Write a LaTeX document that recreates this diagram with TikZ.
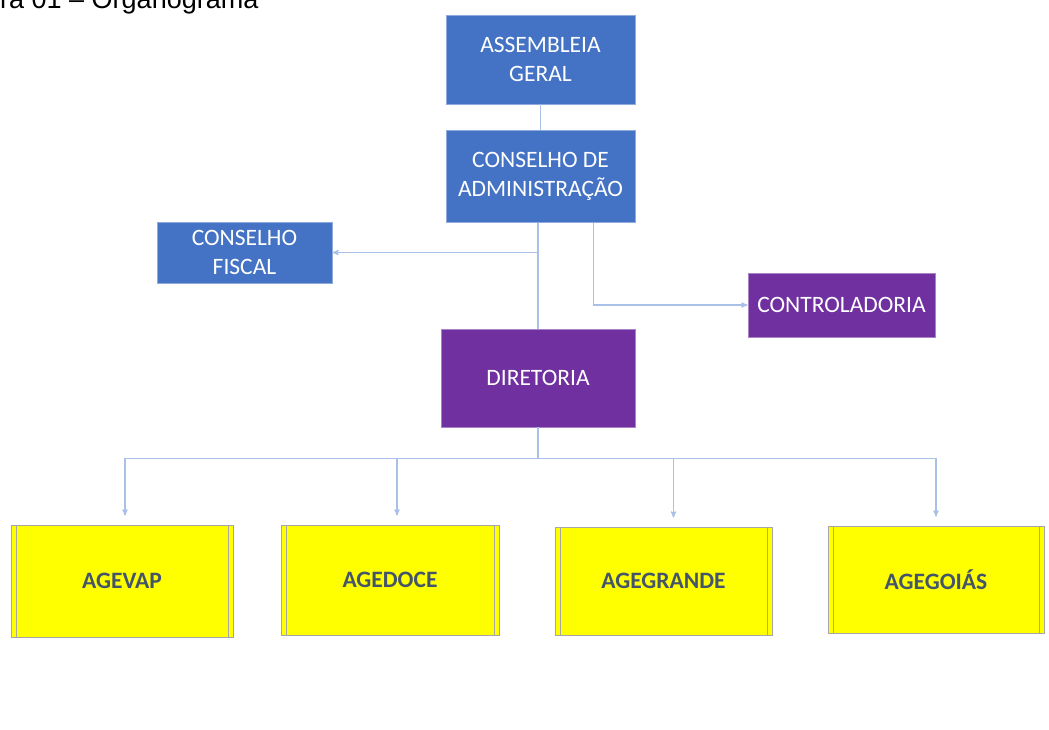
\documentclass[tikz,border=0pt]{standalone}
\usepackage{fontspec}
\setmainfont{Carlito}
\newfontfamily\captionfont{Liberation Sans}
\usetikzlibrary{arrows,positioning}
\definecolor{boxblue}{HTML}{4472C4}
\definecolor{boxpurple}{HTML}{7030A0}
\definecolor{boxyellow}{HTML}{FFFF00}
\definecolor{linkblue}{HTML}{A9C0E8}
\definecolor{agencytext}{HTML}{44546A}
\definecolor{agencyrule}{HTML}{A6A6A6}
\tikzset{>=stealth',shorten >=0pt,node distance=26pt}
\tikzset{
    orgbox/.style={rectangle, line width=0.8pt, text=white, align=center,
        inner sep=0pt, font=\fontsize{23.5}{29}\selectfont},
    bluebox/.style={orgbox, fill=boxblue, draw=boxblue!60!white},
    purplebox/.style={orgbox, fill=boxpurple, draw=boxpurple!60!white},
    agencybox/.style={rectangle, fill=boxyellow, draw=agencyrule, line width=0.8pt,
        text=agencytext, inner sep=0pt, font=\bfseries\fontsize{23.5}{29}\selectfont,
        path picture={
            \draw[agencyrule, line width=0.8pt]
                ([xshift=5pt]path picture bounding box.north west) --
                ([xshift=5pt]path picture bounding box.south west)
                ([xshift=-5pt]path picture bounding box.north east) --
                ([xshift=-5pt]path picture bounding box.south east);
        }},
    link/.style={draw=linkblue, line width=1.2pt}
}

\begin{document}
\begin{tikzpicture}[x=1pt,y=-1pt]
    \useasboundingbox (0,0) rectangle (1049,729);
    \node[anchor=base west, inner sep=0pt, font=\captionfont\fontsize{27}{30}\selectfont]
        (caption) at (0,8) {ra 01 – Organograma};

    % conselhos
    \node[bluebox, minimum width=189pt, minimum height=89pt] (ag) at (540.5,59.5)
        {ASSEMBLEIA\\GERAL};
    \node[bluebox, minimum width=189pt, minimum height=92pt] (adm) [below=26pt of ag]
        {CONSELHO DE\\ADMINISTRAÇÃO};
    \node[bluebox, minimum width=175pt, minimum height=61pt] (fiscal) at (244.5,252.5)
        {CONSELHO\\FISCAL};
    \node[purplebox, minimum width=187pt, minimum height=64pt] (ctrl) at (841.5,305)
        {CONTROLADORIA};
    \node[purplebox, minimum width=194pt, minimum height=98pt] (dir) at (538,378)
        {DIRETORIA};

    % agencias
    \node[agencybox, minimum width=222pt, minimum height=112pt] (vap) at (122,581) {AGEVAP};
    \node[agencybox, minimum width=218pt, minimum height=110pt] (doce) at (390,580) {AGEDOCE};
    \node[agencybox, minimum width=217pt, minimum height=108pt] (grande) at (663.5,581) {AGEGRANDE};
    \node[agencybox, minimum width=216pt, minimum height=107pt] (goias) at (936,579.5) {AGEGOIÁS};

    % ligacoes
    \draw[link] (ag) -- (adm);
    \draw[link] (adm.south -| dir.north) -- (dir.north);
    \draw[link,->] (dir.north |- fiscal.east) -- (fiscal.east);
    \draw[link,->] ([xshift=53pt]adm.south) |- (ctrl.west);
    \draw[link] (dir.south) -- ++(0,31) coordinate (bus);
    \foreach \agency/\dx in {vap/3, doce/7, grande/10, goias/0}
        \coordinate (tip-\agency) at ([xshift=\dx pt]\agency.north);
    \draw[link] (tip-vap |- bus) -- (tip-goias |- bus);
    \foreach \agency in {vap, doce, grande, goias}
        \draw[link,->,shorten >=9pt] (tip-\agency |- bus) -- (tip-\agency);
\end{tikzpicture}
\end{document}
